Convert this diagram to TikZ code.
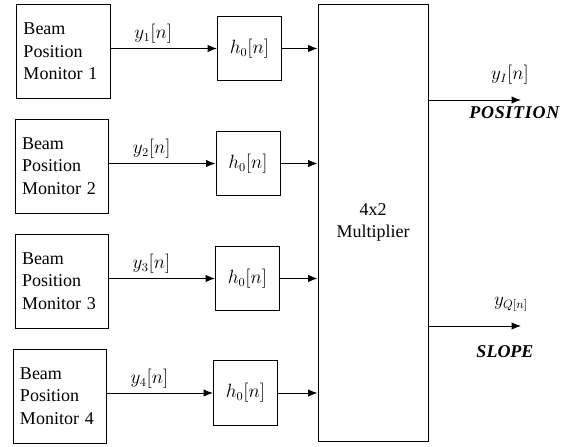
\documentclass[tikz,border=0pt]{standalone}
\usepackage{amsmath}
\usepackage{fontspec}
\setmainfont{Liberation Serif}
\usetikzlibrary{arrows.meta}

\begin{document}
\begin{tikzpicture}[x=0.75pt,y=-0.75pt,>={Latex[length=7pt,width=5.5pt]},line width=0.75pt,
	txt/.style = {font=\rmfamily\fontsize{13.5}{17}\selectfont},
	bpm/.style = {draw,txt,text width=60pt,inner xsep=5pt,minimum height=70.5pt,align=left},
	filt/.style = {draw,txt,minimum width=48pt,minimum height=48.5pt,inner sep=0pt},
	]
	\useasboundingbox (0,0) rectangle (569,447);
	%MONITOR
	\node[bpm] (@bpm1) at (63.5,51.5) {Beam\\Position\\Monitor 1};
	\node[bpm] (@bpm2) at (62,166) {Beam\\Position\\Monitor 2};
	\node[bpm] (@bpm3) at (62,281) {Beam\\Position\\Monitor 3};
	\node[bpm] (@bpm4) at (60,396) {Beam\\Position\\Monitor 4};
	%FILTRI
	\node[filt] (@h1) at (249.5,48.5) {$h_0[n]$};
	\node[filt] (@h2) at (248,163.5) {$h_0[n]$};
	\node[filt] (@h3) at (247.5,278.5) {$h_0[n]$};
	\node[filt] (@h4) at (245.5,393) {$h_0[n]$};
	%MOLTIPLICATORE
	\node[draw,txt,minimum width=82.5pt,minimum height=327.75pt,align=center] (@mult) at (373,222.5) {4x2\\Multiplier};
	%Ingressi
	\draw[->] (@bpm1.east |- @h1) -- (@h1.west) node [pos=0.4, above, txt] {$y_1[n]$};
	\draw[->] (@bpm2.east |- @h2) -- (@h2.west) node [pos=0.4, above, txt] {$y_2[n]$};
	\draw[->] (@bpm3.east |- @h3) -- (@h3.west) node [pos=0.4, above, txt] {$y_3[n]$};
	\draw[->] (@bpm4.east |- @h4) -- (@h4.west) node [pos=0.4, above, txt] {$y_4[n]$};
	\draw[->] (@h1) -- (@h1 -| @mult.west);
	\draw[->] (@h2) -- (@h2 -| @mult.west);
	\draw[->] (@h3) -- (@h3 -| @mult.west);
	\draw[->] (@h4) -- (@h4 -| @mult.west);
	%Uscite
	\coordinate (@outI) at (521,100);
	\coordinate (@outQ) at (521,326);
	\draw[->] (@mult.east |- @outI) -- (@outI);
	\draw[->] (@mult.east |- @outQ) -- (@outQ);
	\node[txt] (@yI) at (510,75) {$y_I[n]$};
	\node[txt] (@pos) at (515,113) {\addfontfeatures{LetterSpace=4}\textbf{\textit{POSITION}}};
	\node[txt] (@yQ) at (511,304) {$y_{Q[n]}$};
	\node[txt] (@slope) at (505,352) {\textbf{\textit{SLOPE}}};
\end{tikzpicture}
\end{document}
